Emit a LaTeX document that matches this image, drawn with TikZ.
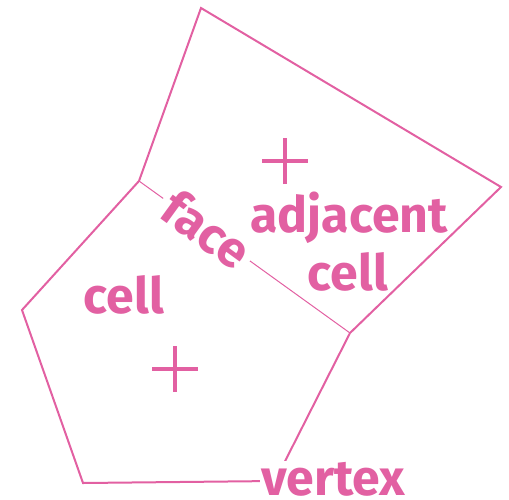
\documentclass[tikz,border=0pt]{standalone}
\usepackage{fontspec}
\setmainfont{Fira Sans}
\definecolor{pk}{RGB}{226,96,162}
\begin{document}
\begin{tikzpicture}[x=1pt,y=-1pt,
  edge/.style={draw=pk,line width=2pt,line join=miter},
  facel/.style={draw=pk,line width=1pt},
  lbl/.style={text=pk,font=\fontsize{50}{54}\selectfont\bfseries,inner sep=2pt},
  plus/.style={draw=pk,line width=3.3pt}]
\useasboundingbox (0,0) rectangle (509,499);
\coordinate (A) at (139,181);
\coordinate (T) at (201,8);
\coordinate (R) at (501,187);
\coordinate (B) at (350,333);
\coordinate (L) at (22,310);
\coordinate (BL) at (83,483);
\coordinate (V) at (275,481);
% shared face
\draw[facel] (A) -- (B);
% upper cell
\draw[edge] (A) -- (T) -- (R) -- (B);
% lower cell
\draw[edge] (A) -- (L) -- (BL) -- (V) -- (B);
% labels
\node[lbl,fill=white,rotate=-36,inner sep=6pt] (face) at (207,229) {face};
\node[lbl,anchor=base] (adj) at (349,232) {adjacent};
\node[lbl,anchor=base] (cell2) at (348,290) {cell};
\node[lbl,anchor=base] (cell1) at (124,313) {cell};
\node[lbl,anchor=base west,fill=white,inner sep=1pt] (vtx) at (260,495) {vertex};
% centroids
\coordinate (c1) at (285,161);
\coordinate (c2) at (175,369);
\draw[plus] ([xshift=-23pt]c1) -- ([xshift=23pt]c1) ([yshift=-23pt]c1) -- ([yshift=23pt]c1);
\draw[plus] ([xshift=-23pt]c2) -- ([xshift=23pt]c2) ([yshift=-23pt]c2) -- ([yshift=23pt]c2);
\end{tikzpicture}
\end{document}
